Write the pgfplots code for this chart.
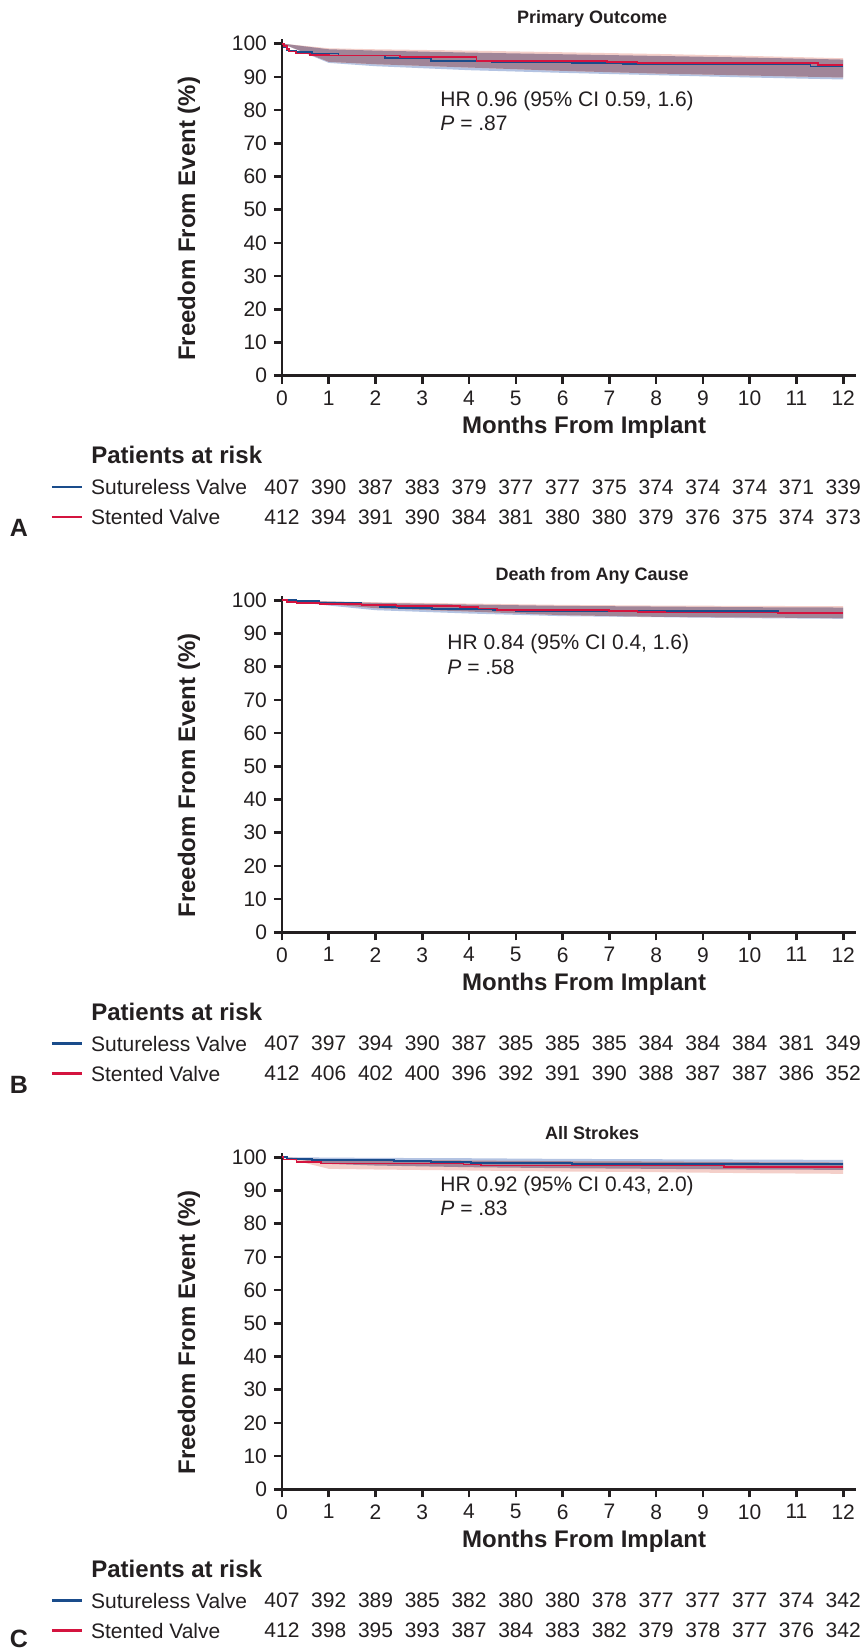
\documentclass[border=0pt]{standalone}
\usepackage{fontspec}
\setmainfont{Liberation Sans}
\usepackage{pgfplots}
\pgfplotsset{compat=1.18}
\definecolor{sblue}{HTML}{1A4C8B}
\definecolor{sred}{HTML}{D4143F}
\definecolor{bandblue}{HTML}{B3C3E2}
\definecolor{bandred}{HTML}{F4CFC9}
\definecolor{bandmix}{HTML}{A08598}
\definecolor{txt}{HTML}{231F20}
\newcommand{\nf}{\fontsize{10.5}{12}\selectfont}
\newcommand{\lf}{\bfseries\fontsize{12}{14}\selectfont}
\newcommand{\tf}{\bfseries\fontsize{9}{10.5}\selectfont}
\pgfplotsset{
  kmaxis/.style={
    scale only axis, width=287.15pt, height=168.2pt,
    xmin=0, xmax=12.28, ymin=0, ymax=101.3,
    axis lines=left, axis line style={-, line width=1.3pt, color=txt},
    xtick={0,1,...,12}, ytick={0,10,...,100},
    tick align=outside, major tick length=4pt,
    tick style={line width=1.3pt, color=txt},
    tick label style={font=\nf, color=txt},
    /pgf/number format/assume math mode=true,
    clip=false, anchor=south west,
  },
  risk/.style={draw=none, mark=none, nodes near coords, point meta=explicit symbolic,
    nodes near coords style={anchor=center, font=\nf, text=txt}},
  kmline/.style={const plot, line width=0.9pt},
}
\tikzset{txtw/.style={anchor=west, inner sep=0pt, text=txt}}
\begin{document}
\begin{tikzpicture}
\useasboundingbox (0,0) rectangle (431.5pt,-825.5pt);
% ================= Panel A =================
\begin{axis}[kmaxis, at={(141pt,-187.85pt)}]
\addplot[fill=bandblue, draw=none] coordinates {(0,100)(1,98.3)(2,97.9)(4,97.3)(6,96.8)(8,96.3)(10,95.8)(12,95.2)(12,89.2)(10,89.8)(8,90.5)(6,91.2)(4,92.0)(2,93.2)(1,94.2)(0,100)} -- cycle;
\addplot[fill=bandred, draw=none] coordinates {(0,100)(1,98.6)(2,98.3)(4,97.9)(6,97.4)(8,96.9)(10,96.3)(12,95.6)(12,89.8)(10,90.4)(8,91.0)(6,91.8)(4,92.8)(2,93.8)(1,94.5)(0,100)} -- cycle;
\addplot[fill=bandmix, draw=none] coordinates {(0,100)(1,98.3)(2,97.9)(4,97.3)(6,96.8)(8,96.3)(10,95.8)(12,95.2)(12,89.8)(10,90.4)(8,91.0)(6,91.8)(4,92.8)(2,93.8)(1,94.5)(0,100)} -- cycle;
\addplot[kmline, sblue] coordinates {(0,100)(0.05,99)(0.1,98)(0.15,97.7)(0.31,97.4)(0.64,97.0)(1.21,96.4)(2.2,95.6)(3.18,94.85)(4.49,94.4)(6.2,94.1)(7.28,93.8)(11.3,93.1)(12,93.1)};
\addplot[kmline, sred] coordinates {(0,100)(0.05,99.3)(0.1,98.3)(0.15,97.6)(0.3,97.0)(0.6,96.6)(1.0,96.4)(2.52,95.9)(4.16,94.85)(6.95,94.4)(7.6,94.1)(11.46,93.5)(12,93.5)};
\node[txtw, font=\nf] at (axis cs:3.38,82.7) {HR 0.96 (95\% CI 0.59, 1.6)};
\node[txtw, font=\nf] at (axis cs:3.38,76.1) {\textit{P} = .87};
\node[font=\tf, text=txt] at ([yshift=12.3pt]axis cs:6.63,100) {Primary Outcome};
\node[font=\lf, text=txt] at ([yshift=-26pt]axis cs:6.46,0) {Months From Implant};
\node[font=\lf, text=txt, rotate=90] at ([xshift=-46.5pt]axis cs:0,47.2) {Freedom From Event (\%)};
\node[txtw, font=\lf] at ([xshift=-95.5pt]axis cs:0,-23.88) {Patients at risk};
\draw[sblue, line width=1.4pt] ([xshift=-115pt]axis cs:0,-33.52) -- ([xshift=-100pt]axis cs:0,-33.52);
\draw[sred, line width=1.4pt] ([xshift=-115pt]axis cs:0,-42.55) -- ([xshift=-100pt]axis cs:0,-42.55);
\node[txtw, font=\nf] at ([xshift=-95.65pt]axis cs:0,-33.52) {Sutureless Valve};
\node[txtw, font=\nf] at ([xshift=-95.65pt]axis cs:0,-42.55) {Stented Valve};
\node[font=\bfseries\fontsize{12.5}{14}\selectfont, text=txt] at ([xshift=-131.5pt]axis cs:0,-45.86) {A};
\addplot[risk] coordinates {(0,-33.52)[407] (1,-33.52)[390] (2,-33.52)[387] (3,-33.52)[383] (4,-33.52)[379] (5,-33.52)[377] (6,-33.52)[377] (7,-33.52)[375] (8,-33.52)[374] (9,-33.52)[374] (10,-33.52)[374] (11,-33.52)[371] (12,-33.52)[339]};
\addplot[risk] coordinates {(0,-42.55)[412] (1,-42.55)[394] (2,-42.55)[391] (3,-42.55)[390] (4,-42.55)[384] (5,-42.55)[381] (6,-42.55)[380] (7,-42.55)[380] (8,-42.55)[379] (9,-42.55)[376] (10,-42.55)[375] (11,-42.55)[374] (12,-42.55)[373]};
\end{axis}
% ================= Panel B =================
\begin{axis}[kmaxis, at={(141pt,-466.15pt)}]
\addplot[fill=bandblue, draw=none] coordinates {(0,100)(1,99.6)(2,99.2)(4,98.7)(6,98.3)(8,98.1)(10,97.9)(12,97.8)(12,94.4)(10,94.6)(8,94.9)(6,95.2)(4,96.0)(2,97.0)(1,98.4)(0,100)} -- cycle;
\addplot[fill=bandred, draw=none] coordinates {(0,100)(1,99.7)(2,99.4)(4,99.0)(6,98.6)(8,98.4)(10,98.3)(12,98.2)(12,94.6)(10,94.8)(8,95.0)(6,95.5)(4,96.6)(2,97.6)(1,98.8)(0,100)} -- cycle;
\addplot[fill=bandmix, draw=none] coordinates {(0,100)(1,99.6)(2,99.2)(4,98.7)(6,98.3)(8,98.1)(10,97.9)(12,97.8)(12,94.6)(10,94.8)(8,95.0)(6,95.5)(4,96.6)(2,97.6)(1,98.8)(0,100)} -- cycle;
\addplot[kmline, sblue] coordinates {(0,100)(0.31,99.7)(0.8,99.2)(1.7,98.5)(2.1,98.0)(2.5,97.7)(3.2,97.4)(4.5,97.0)(5.0,96.7)(10.6,96.0)(12,96.0)};
\addplot[kmline, sred] coordinates {(0,100)(0.1,99.5)(0.31,99.2)(0.8,98.9)(1.7,98.5)(2.45,98.2)(3.8,97.9)(4.2,97.5)(4.6,97.0)(6.99,96.7)(7.6,96.5)(8.2,96.3)(10.6,96.2)(12,96.2)};
\node[txtw, font=\nf] at (axis cs:3.53,86.8) {HR 0.84 (95\% CI 0.4, 1.6)};
\node[txtw, font=\nf] at (axis cs:3.53,79.9) {\textit{P} = .58};
\node[font=\tf, text=txt] at ([yshift=12.3pt]axis cs:6.63,100) {Death from Any Cause};
\node[font=\lf, text=txt] at ([yshift=-26pt]axis cs:6.46,0) {Months From Implant};
\node[font=\lf, text=txt, rotate=90] at ([xshift=-46.5pt]axis cs:0,47.2) {Freedom From Event (\%)};
\node[txtw, font=\lf] at ([xshift=-95.5pt]axis cs:0,-23.88) {Patients at risk};
\draw[sblue, line width=1.4pt] ([xshift=-115pt]axis cs:0,-33.52) -- ([xshift=-100pt]axis cs:0,-33.52);
\draw[sred, line width=1.4pt] ([xshift=-115pt]axis cs:0,-42.55) -- ([xshift=-100pt]axis cs:0,-42.55);
\node[txtw, font=\nf] at ([xshift=-95.65pt]axis cs:0,-33.52) {Sutureless Valve};
\node[txtw, font=\nf] at ([xshift=-95.65pt]axis cs:0,-42.55) {Stented Valve};
\node[font=\bfseries\fontsize{12.5}{14}\selectfont, text=txt] at ([xshift=-131.5pt]axis cs:0,-45.86) {B};
\addplot[risk] coordinates {(0,-33.52)[407] (1,-33.52)[397] (2,-33.52)[394] (3,-33.52)[390] (4,-33.52)[387] (5,-33.52)[385] (6,-33.52)[385] (7,-33.52)[385] (8,-33.52)[384] (9,-33.52)[384] (10,-33.52)[384] (11,-33.52)[381] (12,-33.52)[349]};
\addplot[risk] coordinates {(0,-42.55)[412] (1,-42.55)[406] (2,-42.55)[402] (3,-42.55)[400] (4,-42.55)[396] (5,-42.55)[392] (6,-42.55)[391] (7,-42.55)[390] (8,-42.55)[388] (9,-42.55)[387] (10,-42.55)[387] (11,-42.55)[386] (12,-42.55)[352]};
\end{axis}
% ================= Panel C =================
\begin{axis}[kmaxis, at={(141pt,-744.65pt)}]
\addplot[fill=bandblue, draw=none] coordinates {(0,100)(1,99.9)(2,99.8)(4,99.7)(6,99.5)(8,99.4)(10,99.3)(12,99.2)(12,96.2)(10,96.3)(8,96.5)(6,96.7)(4,97.0)(2,97.5)(1,98.0)(0,100)} -- cycle;
\addplot[fill=bandred, draw=none] coordinates {(0,100)(1,99.3)(2,99.2)(4,99.0)(6,98.8)(8,98.7)(10,98.5)(12,98.4)(12,95.0)(10,95.2)(8,95.5)(6,95.7)(4,96.0)(2,96.3)(1,96.5)(0,100)} -- cycle;
\addplot[fill=bandmix, draw=none] coordinates {(0,100)(1,99.3)(2,99.2)(4,99.0)(6,98.8)(8,98.7)(10,98.5)(12,98.4)(12,96.2)(10,96.3)(8,96.5)(6,96.7)(4,97.0)(2,97.5)(1,98.0)(0,100)} -- cycle;
\addplot[kmline, sblue] coordinates {(0,100)(0.1,99.5)(0.64,99.2)(2.4,98.8)(3.18,98.5)(4.04,98.2)(6.2,97.9)(12,97.9)};
\addplot[kmline, sred] coordinates {(0,100)(0.03,99.3)(0.31,98.6)(0.84,98.1)(3.88,97.8)(4.25,97.5)(9.45,97.0)(12,97.0)};
\node[txtw, font=\nf] at (axis cs:3.38,91.4) {HR 0.92 (95\% CI 0.43, 2.0)};
\node[txtw, font=\nf] at (axis cs:3.38,84.7) {\textit{P} = .83};
\node[font=\tf, text=txt] at ([yshift=12.3pt]axis cs:6.63,100) {All Strokes};
\node[font=\lf, text=txt] at ([yshift=-26pt]axis cs:6.46,0) {Months From Implant};
\node[font=\lf, text=txt, rotate=90] at ([xshift=-46.5pt]axis cs:0,47.2) {Freedom From Event (\%)};
\node[txtw, font=\lf] at ([xshift=-95.5pt]axis cs:0,-23.88) {Patients at risk};
\draw[sblue, line width=1.4pt] ([xshift=-115pt]axis cs:0,-33.52) -- ([xshift=-100pt]axis cs:0,-33.52);
\draw[sred, line width=1.4pt] ([xshift=-115pt]axis cs:0,-42.55) -- ([xshift=-100pt]axis cs:0,-42.55);
\node[txtw, font=\nf] at ([xshift=-95.65pt]axis cs:0,-33.52) {Sutureless Valve};
\node[txtw, font=\nf] at ([xshift=-95.65pt]axis cs:0,-42.55) {Stented Valve};
\node[font=\bfseries\fontsize{12.5}{14}\selectfont, text=txt] at ([xshift=-131.5pt]axis cs:0,-44.9) {C};
\addplot[risk] coordinates {(0,-33.52)[407] (1,-33.52)[392] (2,-33.52)[389] (3,-33.52)[385] (4,-33.52)[382] (5,-33.52)[380] (6,-33.52)[380] (7,-33.52)[378] (8,-33.52)[377] (9,-33.52)[377] (10,-33.52)[377] (11,-33.52)[374] (12,-33.52)[342]};
\addplot[risk] coordinates {(0,-42.55)[412] (1,-42.55)[398] (2,-42.55)[395] (3,-42.55)[393] (4,-42.55)[387] (5,-42.55)[384] (6,-42.55)[383] (7,-42.55)[382] (8,-42.55)[379] (9,-42.55)[378] (10,-42.55)[377] (11,-42.55)[376] (12,-42.55)[342]};
\end{axis}
\end{tikzpicture}
\end{document}
